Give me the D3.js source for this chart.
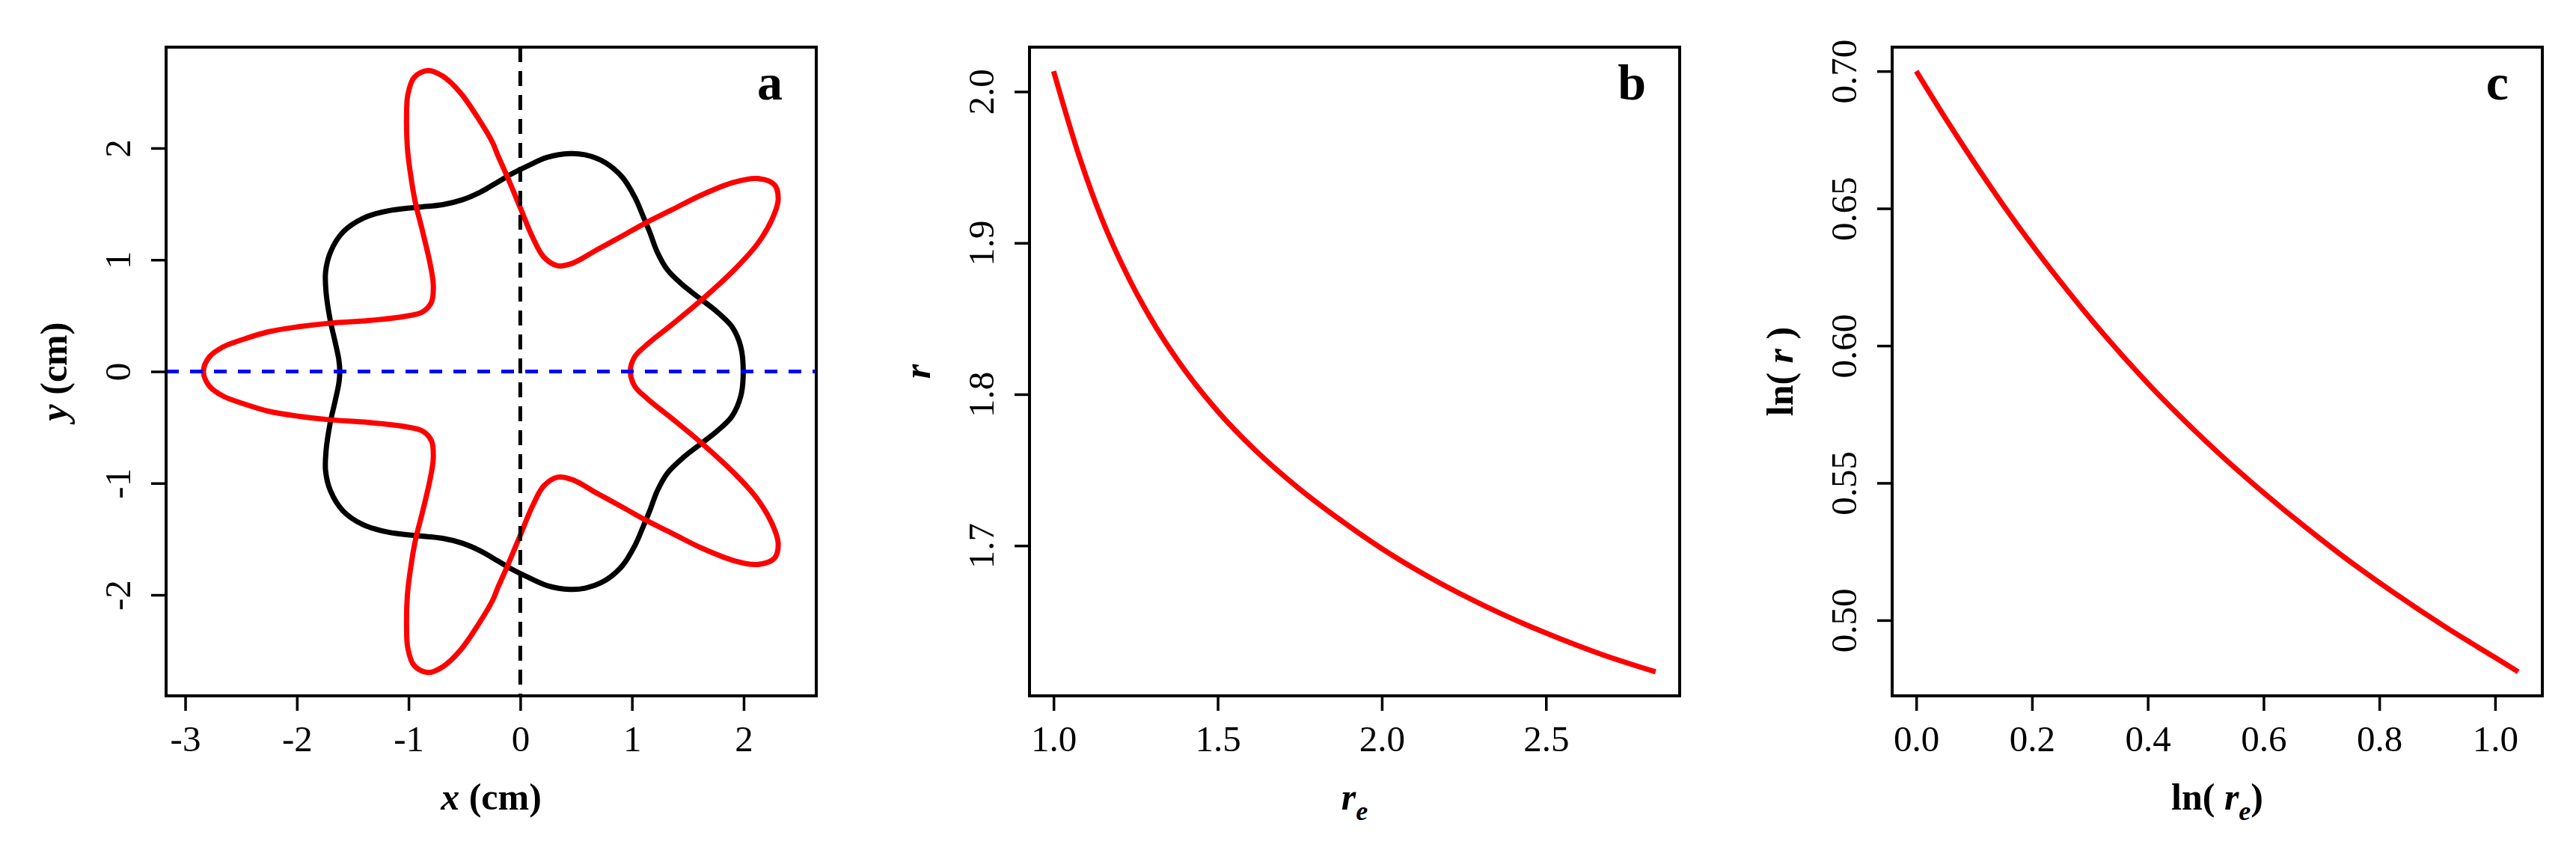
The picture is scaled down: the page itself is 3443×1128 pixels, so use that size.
<!DOCTYPE html>
<html><head><meta charset="utf-8">
<script src="https://cdn.jsdelivr.net/npm/d3@7"></script>
<style>body{margin:0;background:#fff} svg{display:block}</style>
</head><body>
<script>
// ---------- Panel a : traced closed curves (x, y in cm) ----------
const blackX = [1.996,1.974,1.896,1.762,1.605,1.449,1.315,1.226,1.159,1.103,1.025,0.914,0.757,0.579,0.445,0.244,0.065,-0.091,-0.203,-0.359,-0.516,-0.694,-0.918,-1.186,-1.409,-1.587,-1.699,-1.743,-1.739,-1.703,-1.658,-1.625,-1.616,
  -1.625,-1.658,-1.703,-1.739,-1.743,-1.699,-1.587,-1.409,-1.186,-0.918,-0.694,-0.516,-0.359,-0.203,-0.091,0.065,0.244,0.445,0.579,0.757,0.914,1.025,1.103,1.159,1.226,1.315,1.449,1.605,1.762,1.896,1.974];
const blackY = [0,0.221,0.400,0.534,0.656,0.779,0.913,1.070,1.248,1.382,1.561,1.739,1.873,1.940,1.951,1.918,1.840,1.762,1.695,1.605,1.538,1.494,1.471,1.438,1.371,1.248,1.070,0.891,0.712,0.467,0.266,0.109,0,
  -0.109,-0.266,-0.467,-0.712,-0.891,-1.070,-1.248,-1.371,-1.438,-1.471,-1.494,-1.538,-1.605,-1.695,-1.762,-1.840,-1.918,-1.951,-1.940,-1.873,-1.739,-1.561,-1.382,-1.248,-1.070,-0.913,-0.779,-0.656,-0.534,-0.400,-0.221];

const redX = [-2.837,-2.782,-2.659,-2.480,-2.257,-1.989,-1.699,-1.364,-1.029,-0.873,-0.794,-0.779,-0.806,-0.873,-0.940,-0.985,-1.011,-1.018,-1.007,-0.951,-0.828,-0.694,-0.538,-0.382,-0.248,-0.203,-0.114,-0.002,0.110,0.210,0.333,0.467,0.690,0.914,1.114,1.360,1.628,1.918,2.119,2.275,2.309,2.253,2.119,1.918,1.628,1.360,1.137,1.025,0.985,
  1.025,1.137,1.360,1.628,1.918,2.119,2.253,2.309,2.275,2.119,1.918,1.628,1.360,1.114,0.914,0.690,0.467,0.333,0.210,0.110,-0.002,-0.114,-0.203,-0.248,-0.382,-0.538,-0.694,-0.828,-0.951,-1.007,-1.018,-1.011,-0.985,-0.940,-0.873,-0.806,-0.779,-0.794,-0.873,-1.029,-1.364,-1.699,-1.989,-2.257,-2.480,-2.659,-2.782];
const redY = [0,0.132,0.221,0.288,0.355,0.400,0.433,0.455,0.494,0.534,0.623,0.779,0.958,1.248,1.516,1.784,2.007,2.275,2.476,2.632,2.695,2.644,2.498,2.275,2.050,1.940,1.739,1.471,1.203,1.025,0.947,0.969,1.092,1.214,1.326,1.449,1.583,1.695,1.728,1.672,1.538,1.360,1.137,0.913,0.645,0.422,0.243,0.132,0,
  -0.132,-0.243,-0.422,-0.645,-0.913,-1.137,-1.360,-1.538,-1.672,-1.728,-1.695,-1.583,-1.449,-1.326,-1.214,-1.092,-0.969,-0.947,-1.025,-1.203,-1.471,-1.739,-1.940,-2.050,-2.275,-2.498,-2.644,-2.695,-2.632,-2.476,-2.275,-2.007,-1.784,-1.516,-1.248,-0.958,-0.779,-0.623,-0.534,-0.494,-0.455,-0.433,-0.400,-0.355,-0.288,-0.221,-0.132];

const aXTicks = [-3,-2,-1,0,1,2];
const aYTicks = [-2,-1,0,1,2];
const aXLim = [-3.171, 2.650];
const aYLim = [-2.904, 2.904];

// ---------- Panel b : r versus r_e ----------
const reValues = [1.000,1.079,1.145,1.229,1.313,1.380,1.500,1.614,1.747,1.865,2.000,2.149,2.316,2.500,2.667,2.834];
const rValues  = [2.0135,1.9566,1.9170,1.8767,1.8439,1.8218,1.7888,1.7631,1.7378,1.7183,1.6980,1.6786,1.6599,1.6422,1.6283,1.6166];
const bXTicks = [1.0,1.5,2.0,2.5];
const bYTicks = [1.7,1.8,1.9,2.0];

// ---------- Panel c : ln(r) versus ln(r_e) ----------
const lnReValues = [0.000,0.047,0.094,0.151,0.207,0.264,0.320,0.400,0.480,0.565,0.650,0.734,0.819,0.913,1.000,1.040];
const lnRValues  = [0.7000,0.6840,0.6687,0.6510,0.6348,0.6194,0.6051,0.5863,0.5693,0.5528,0.5377,0.5238,0.5109,0.4977,0.4864,0.4812];
const cXTicks = [0.0,0.2,0.4,0.6,0.8,1.0];
const cYTicks = [0.50,0.55,0.60,0.65,0.70];

// ---------- drawing ----------
const W = 3443, H = 1128;
const FONT = "'Liberation Serif','Times New Roman',Times,serif";
const svg = d3.select("body").append("svg").attr("width", W).attr("height", H)
  .style("font-family", FONT);
svg.append("rect").attr("width", W).attr("height", H).attr("fill", "#fff");

function pad4(arr) { const [lo, hi] = d3.extent(arr); const r = hi - lo; return [lo - 0.04 * r, hi + 0.04 * r]; }

function richText(parent, x, y, parts, opts = {}) {
  const t = parent.append("text")
    .attr("text-anchor", opts.anchor || "middle")
    .attr("font-size", opts.size || 50)
    .attr("font-weight", "bold")
    .attr("fill", "#000");
  if (opts.rotate) t.attr("transform", `translate(${x},${y}) rotate(-90)`);
  else t.attr("x", x).attr("y", y);
  parts.forEach(p => {
    const s = t.append("tspan").text(p.t);
    if (p.italic) s.attr("font-style", "italic");
    if (p.size) s.attr("font-size", p.size);
    if (p.dy) s.attr("dy", p.dy);
  });
  return t;
}

function panel(o) {
  const g = svg.append("g").attr("transform", `translate(${o.left},${o.top})`);
  const x = d3.scaleLinear().domain(o.xDomain).range([0, o.w]);
  const y = d3.scaleLinear().domain(o.yDomain).range([o.h, 0]);
  const id = "clip" + o.name;
  g.append("clipPath").attr("id", id).append("rect").attr("width", o.w).attr("height", o.h);
  const plot = g.append("g").attr("clip-path", `url(#${id})`);

  const xa = g.append("g").attr("transform", `translate(0,${o.h})`)
    .call(d3.axisBottom(x).tickValues(o.xTicks).tickSize(20).tickPadding(19).tickFormat(o.xFmt));
  const ya = g.append("g")
    .call(d3.axisLeft(y).tickValues(o.yTicks).tickSize(20).tickFormat(o.yFmt));
  [xa, ya].forEach(a => {
    a.select(".domain").remove();
    a.selectAll(".tick line").attr("stroke", "#000").attr("stroke-width", 3.5);
    a.selectAll(".tick text").attr("font-family", FONT).attr("font-size", 49).attr("fill", "#000");
  });
  ya.selectAll(".tick text")
    .attr("x", null).attr("dy", null).attr("text-anchor", "middle")
    .attr("transform", "translate(-48,0) rotate(-90)");

  g.append("rect").attr("width", o.w).attr("height", o.h)
    .attr("fill", "none").attr("stroke", "#000").attr("stroke-width", 4);

  g.append("text").attr("x", o.w - 45).attr("y", 70).attr("text-anchor", "end")
    .attr("font-size", 68).attr("font-weight", "bold").text(o.letter);

  richText(g, o.w / 2, o.h + 152, o.xTitle);
  richText(g, -133, o.h / 2, o.yTitle, { rotate: true });
  return { g, plot, x, y };
}

const fmt1 = d => d.toFixed(1), fmt2 = d => d.toFixed(2), fmtI = d => String(d);

// Panel a
const A = panel({
  name: "a", left: 222, top: 63, w: 869, h: 867,
  xDomain: aXLim, yDomain: aYLim, xTicks: aXTicks, yTicks: aYTicks,
  xFmt: fmtI, yFmt: fmtI, letter: "a",
  xTitle: [{ t: "x", italic: true }, { t: " (cm)" }],
  yTitle: [{ t: "y", italic: true }, { t: " (cm)" }]
});
const blackPts = blackX.map((v, i) => [v, blackY[i]]);
const redPts = redX.map((v, i) => [v, redY[i]]);
const closedLine = d3.line().x(d => A.x(d[0])).y(d => A.y(d[1])).curve(d3.curveCatmullRomClosed.alpha(0.5));
A.plot.append("path").attr("d", closedLine(blackPts)).attr("fill", "none").attr("stroke", "#000").attr("stroke-width", 7);
A.plot.append("path").attr("d", closedLine(redPts)).attr("fill", "none").attr("stroke", "#ff0000").attr("stroke-width", 7);
A.plot.append("line").attr("x1", A.x(0)).attr("x2", A.x(0)).attr("y1", A.y(aYLim[1])).attr("y2", A.y(aYLim[0]))
  .attr("stroke", "#000").attr("stroke-width", 5).attr("stroke-dasharray", "20,12");
A.plot.append("line").attr("x1", A.x(aXLim[0])).attr("x2", A.x(aXLim[1])).attr("y1", A.y(0)).attr("y2", A.y(0))
  .attr("stroke", "#0000ff").attr("stroke-width", 5).attr("stroke-dasharray", "17,15");

// Panel b
const B = panel({
  name: "b", left: 1376, top: 63, w: 869, h: 867,
  xDomain: pad4(reValues), yDomain: pad4(rValues), xTicks: bXTicks, yTicks: bYTicks,
  xFmt: fmt1, yFmt: fmt1, letter: "b",
  xTitle: [{ t: "r", italic: true }, { t: "e", italic: true, size: 36, dy: 14 }],
  yTitle: [{ t: "r", italic: true }]
});
const bLine = d3.line().x((d, i) => B.x(reValues[i])).y((d, i) => B.y(rValues[i])).curve(d3.curveMonotoneX);
B.plot.append("path").attr("d", bLine(reValues)).attr("fill", "none").attr("stroke", "#ff0000").attr("stroke-width", 7);

// Panel c
const C = panel({
  name: "c", left: 2529, top: 63, w: 869, h: 867,
  xDomain: pad4(lnReValues), yDomain: pad4(lnRValues), xTicks: cXTicks, yTicks: cYTicks,
  xFmt: fmt1, yFmt: fmt2, letter: "c",
  xTitle: [{ t: "ln( " }, { t: "r", italic: true }, { t: "e", italic: true, size: 36, dy: 14 }, { t: ")", dy: -14 }],
  yTitle: [{ t: "ln( " }, { t: "r", italic: true }, { t: " )" }]
});
const cLine = d3.line().x((d, i) => C.x(lnReValues[i])).y((d, i) => C.y(lnRValues[i])).curve(d3.curveMonotoneX);
C.plot.append("path").attr("d", cLine(lnReValues)).attr("fill", "none").attr("stroke", "#ff0000").attr("stroke-width", 7);
</script>
</body></html>
